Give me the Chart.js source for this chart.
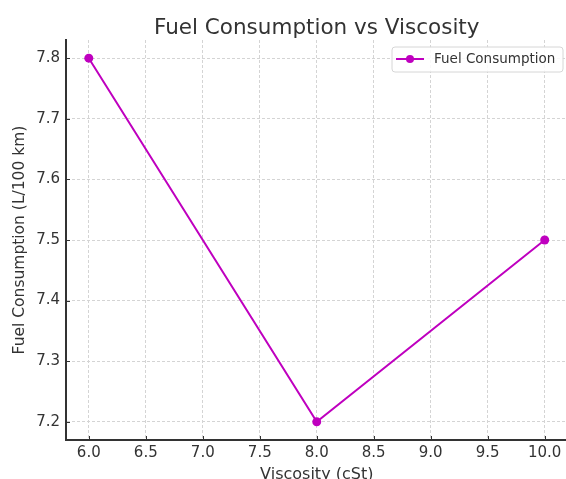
<!DOCTYPE html>
<html><head><meta charset="utf-8">
<script src="https://cdn.jsdelivr.net/npm/chart.js@4"></script>
<style>
html,body{margin:0;padding:0;overflow:hidden;background:#fff;}
#wrap{width:566px;height:479px;overflow:hidden;position:relative;background:#fff;}
canvas{display:block;}
</style></head><body>
<div id="wrap"><canvas id="c" width="572" height="486" style="width:572px;height:486px"></canvas></div>
<script>
const titleText = 'Fuel Consumption vs Viscosity';
const seriesLabel = 'Fuel Consumption';
const xAxisLabel = 'Viscosity (cSt)';
const yAxisLabel = 'Fuel Consumption (L/100 km)';
const viscosity = [6.0, 8.0, 10.0];
const fuelConsumption = [7.8, 7.2, 7.5];
const xTickValues = [6.0, 6.5, 7.0, 7.5, 8.0, 8.5, 9.0, 9.5, 10.0];
const yTickValues = [7.2, 7.3, 7.4, 7.5, 7.6, 7.7, 7.8];

const FONT = '"DejaVu Sans", sans-serif';
const TEXT = '#333333';
const LINE = '#bf00bf';

const points = viscosity.map((v, i) => ({x: v, y: fuelConsumption[i]}));

const extras = {
  id: 'extras',
  afterDatasetsDraw(chart) {
    const ctx = chart.ctx, a = chart.chartArea;
    const xs = chart.scales.x, ys = chart.scales.y;
    ctx.save();
    ctx.strokeStyle = '#333';
    ctx.lineWidth = 1;
    xTickValues.forEach(v => {
      const p = Math.round(xs.getPixelForValue(v)) + 0.5;
      ctx.beginPath(); ctx.moveTo(p, a.bottom); ctx.lineTo(p, a.bottom - 4); ctx.stroke();
    });
    yTickValues.forEach(v => {
      const p = Math.round(ys.getPixelForValue(v)) + 0.5;
      ctx.beginPath(); ctx.moveTo(a.left, p); ctx.lineTo(a.left + 4, p); ctx.stroke();
    });
    ctx.restore();
  },
  afterDraw(chart) {
    const ctx = chart.ctx, a = chart.chartArea;
    ctx.save();
    // title
    ctx.fillStyle = TEXT;
    ctx.font = '21.5px ' + FONT;
    ctx.textAlign = 'center';
    ctx.textBaseline = 'alphabetic';
    ctx.fillText(titleText, (a.left + a.right) / 2, 34);
    // legend
    const ds = chart.data.datasets[0];
    const bx = 392, by = 47, bw = 171, bh = 25, r = 3;
    ctx.beginPath();
    ctx.moveTo(bx + r, by);
    ctx.arcTo(bx + bw, by, bx + bw, by + bh, r);
    ctx.arcTo(bx + bw, by + bh, bx, by + bh, r);
    ctx.arcTo(bx, by + bh, bx, by, r);
    ctx.arcTo(bx, by, bx + bw, by, r);
    ctx.closePath();
    ctx.fillStyle = 'rgba(255,255,255,0.85)';
    ctx.fill();
    ctx.strokeStyle = '#d6d6d6';
    ctx.lineWidth = 1;
    ctx.stroke();
    ctx.strokeStyle = ds.borderColor;
    ctx.lineWidth = 2;
    ctx.beginPath(); ctx.moveTo(396, 59); ctx.lineTo(424, 59); ctx.stroke();
    ctx.fillStyle = ds.backgroundColor;
    ctx.beginPath(); ctx.arc(410, 59, 4, 0, Math.PI * 2); ctx.fill();
    ctx.fillStyle = TEXT;
    ctx.font = '13.5px ' + FONT;
    ctx.textAlign = 'left';
    ctx.textBaseline = 'middle';
    ctx.fillText(ds.label, 434, 59.5);
    ctx.restore();
  }
};

new Chart(document.getElementById('c'), {
  type: 'scatter',
  data: {
    datasets: [{
      label: seriesLabel,
      data: points,
      showLine: true,
      borderColor: LINE,
      backgroundColor: LINE,
      borderWidth: 2,
      pointRadius: 4.5,
      pointHoverRadius: 4.5,
      pointBorderWidth: 0,
      tension: 0
    }]
  },
  options: {
    responsive: false,
    animation: false,
    devicePixelRatio: 1,
    layout: {padding: {top: 40, right: 3, left: 0, bottom: 0}},
    plugins: {
      legend: {display: false},
      title: {display: false},
      tooltip: {enabled: false}
    },
    scales: {
      x: {
        type: 'linear',
        min: 5.8, max: 10.2,
        afterBuildTicks: s => { s.ticks = xTickValues.map(v => ({value: v})); },
        afterFit: s => { s.height = 46; },
        ticks: {
          color: TEXT, font: {family: FONT, size: 15}, padding: 4,
          maxRotation: 0, autoSkip: false,
          callback: v => Number(v).toFixed(1)
        },
        grid: {color: '#d4d4d4', lineWidth: 1, drawTicks: false},
        border: {display: true, color: '#333', width: 2, dash: [3, 2]},
        title: {display: true, text: xAxisLabel, color: TEXT, font: {family: FONT, size: 16}, padding: {top: 0, bottom: 2}}
      },
      y: {
        type: 'linear',
        min: 7.17, max: 7.83,
        afterBuildTicks: s => { s.ticks = yTickValues.map(v => ({value: v})); },
        afterFit: s => { s.width = 66; },
        ticks: {
          color: TEXT, font: {family: FONT, size: 15}, padding: 6,
          autoSkip: false,
          callback: v => Number(v).toFixed(1)
        },
        grid: {color: '#d4d4d4', lineWidth: 1, drawTicks: false},
        border: {display: true, color: '#333', width: 2, dash: [3, 2]},
        title: {display: true, text: yAxisLabel, color: TEXT, font: {family: FONT, size: 15.5}, padding: {top: 11, bottom: 0}}
      }
    }
  },
  plugins: [extras]
});
</script>
</body></html>
